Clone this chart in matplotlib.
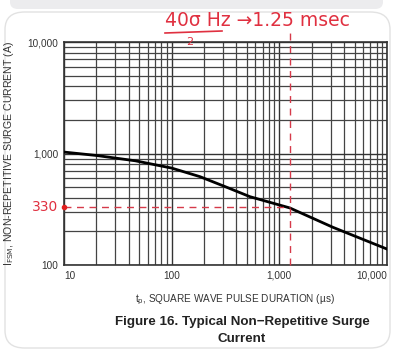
import matplotlib.pyplot as plt
from matplotlib.patches import FancyBboxPatch
from matplotlib.ticker import FixedLocator, LogLocator, NullFormatter

plt.rcParams["font.family"] = ["Liberation Sans", "DejaVu Sans"]

# surge current curve
pulse_us = [10, 20, 46, 100, 183, 313, 533, 1250, 3140, 10000]
surge_a = [1030, 960, 860, 740, 620, 505, 410, 325, 218, 139]

x_ticks = [10, 100, 1000, 10000]
x_labels = ["10", "100", "1,000", "10,000"]
y_ticks = [100, 1000, 10000]
y_labels = ["100", "1,000", "10,000"]

# hand-drawn markup
mark_t = 1250
mark_i = 330

W, H = 393, 350
fig = plt.figure(figsize=(W / 100, H / 100), dpi=100)
fig.patch.set_facecolor("white")

# page background: grey strip on top, white rounded card
fig.patches.append(FancyBboxPatch((10 / W, (H - 9) / H), (W - 20) / W, 30 / H,
                                  boxstyle="round,pad=0,rounding_size=0.02",
                                  transform=fig.transFigure, facecolor="#ececee",
                                  edgecolor="none", zorder=-3))
fig.patches.append(FancyBboxPatch((5 / W, 2 / H), (W - 8) / W, (H - 14) / H,
                                  boxstyle="round,pad=0,rounding_size=0.05",
                                  transform=fig.transFigure, facecolor="white",
                                  edgecolor="#e2e2e2", linewidth=1, zorder=-2))

ax = fig.add_axes([64 / W, (H - 265) / H, 323 / W, 223 / H])
ax.set_facecolor("white")
ax.set_xscale("log")
ax.set_yscale("log")
ax.set_xlim(10, 10000)
ax.set_ylim(100, 10000)

ax.xaxis.set_major_locator(FixedLocator(x_ticks))
ax.yaxis.set_major_locator(FixedLocator(y_ticks))
ax.set_xticklabels(x_labels)
ax.set_yticklabels(y_labels)
ax.xaxis.set_minor_locator(LogLocator(base=10, subs=range(2, 10)))
ax.yaxis.set_minor_locator(LogLocator(base=10, subs=range(2, 10)))
ax.xaxis.set_minor_formatter(NullFormatter())
ax.yaxis.set_minor_formatter(NullFormatter())
ax.tick_params(which="both", length=0, labelsize=7.2, colors="#333333", pad=4)
ax.get_xticklabels()[0].set_ha("left")
ax.get_xticklabels()[-1].set_ha("right")

ax.grid(which="major", color="#333333", linewidth=1.0)
ax.grid(which="minor", color="#444444", linewidth=0.9)
for s in ax.spines.values():
    s.set_color("#333333")
    s.set_linewidth(1.2)

ax.plot(pulse_us, surge_a, color="black", linewidth=2, zorder=5)

# red markup
ax.plot([10, mark_t], [mark_i, mark_i], color="#d63a4a", linestyle=(0, (5, 4)),
        linewidth=1, zorder=6)
ax.plot([mark_t, mark_t], [100, 12800], color="#d63a4a", linestyle=(0, (5, 4)),
        linewidth=1, zorder=6, clip_on=False)
ax.plot([10], [mark_i], "o", color="#e02020", markersize=3, clip_on=False, zorder=7)
ax.text(-0.1, 0.26, "330", transform=ax.transAxes, color="#e03040",
        fontsize=10, family="DejaVu Sans", va="center", ha="left")

fig.text(165 / W, 1 - 21 / H, "40σ Hz →1.25 msec", color="#e03040", fontsize=13.5,
         family="DejaVu Sans", va="center", ha="left")
fig.lines.append(plt.Line2D([165 / W, 222 / W], [1 - 33 / H, 1 - 31 / H],
                            transform=fig.transFigure, color="#e03040", linewidth=1.2))
fig.text(190 / W, 1 - 42 / H, "2", color="#e03040", fontsize=8,
         family="DejaVu Sans", va="center", ha="center")

ax.set_ylabel(r"I$_{\rm FSM}$, NON-REPETITIVE SURGE CURRENT (A)", fontsize=7.6,
              color="#333333")
ax.yaxis.set_label_coords(-0.15, 0.5)
fig.text(235 / W, 1 - 300 / H, r"t$_{\rm p}$, SQUARE WAVE PULSE DURATION (µs)",
         fontsize=7.2, color="#333333", ha="center", va="center")
fig.text(242 / W, 1 - 322 / H, "Figure 16. Typical Non\u2212Repetitive Surge",
         fontsize=9.6, fontweight="bold", color="#222222", ha="center", va="center")
fig.text(242 / W, 1 - 339 / H, "Current",
         fontsize=9.6, fontweight="bold", color="#222222", ha="center", va="center")

fig.savefig("out.png", dpi=100)
